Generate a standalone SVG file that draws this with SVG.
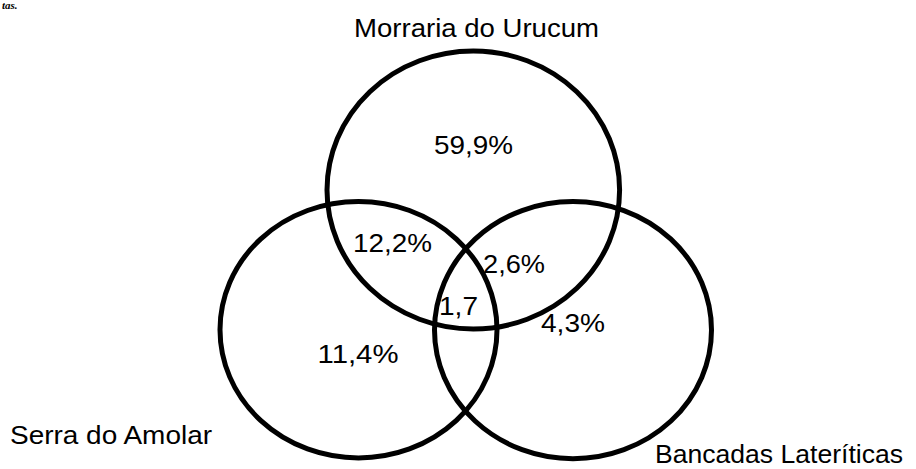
<svg xmlns="http://www.w3.org/2000/svg" width="916" height="469" viewBox="0 0 916 469">
<style>
.c{fill:none;stroke:#000;stroke-width:5}
.t{font-family:"Liberation Sans",Arial,sans-serif;font-size:26px;fill:#000}
.cap{font-family:"Liberation Serif","Times New Roman",serif;font-style:italic;font-weight:bold;font-size:11px;fill:#000}
</style>
<rect width="916" height="469" fill="#fff"/>
<text class="cap" x="2" y="9">tas.</text>
<g id="morraria">
<ellipse class="c" cx="473.3" cy="190" rx="146.3" ry="139"/>
<text class="t" x="354" y="36.7" textLength="245" lengthAdjust="spacingAndGlyphs">Morraria do Urucum</text>
</g>
<g id="serra">
<ellipse class="c" cx="358.5" cy="329.7" rx="138.5" ry="128.2"/>
<text class="t" x="10" y="444.3" textLength="202" lengthAdjust="spacingAndGlyphs">Serra do Amolar</text>
</g>
<g id="bancadas">
<ellipse class="c" cx="573" cy="330.1" rx="138.5" ry="128.6"/>
<text class="t" x="655" y="463" textLength="248" lengthAdjust="spacingAndGlyphs">Bancadas Lateríticas</text>
</g>
<g id="values">
<text class="t" x="434" y="154" textLength="79" lengthAdjust="spacingAndGlyphs">59,9%</text>
<text class="t" x="353" y="251.7" textLength="79" lengthAdjust="spacingAndGlyphs">12,2%</text>
<text class="t" x="483" y="272.7" textLength="62" lengthAdjust="spacingAndGlyphs">2,6%</text>
<text class="t" x="439" y="315" textLength="39" lengthAdjust="spacingAndGlyphs">1,7</text>
<text class="t" x="541" y="331.7" textLength="64" lengthAdjust="spacingAndGlyphs">4,3%</text>
<text class="t" x="317.5" y="363.3" textLength="81" lengthAdjust="spacingAndGlyphs">11,4%</text>
</g>
<g id="connectors"></g>
</svg>
